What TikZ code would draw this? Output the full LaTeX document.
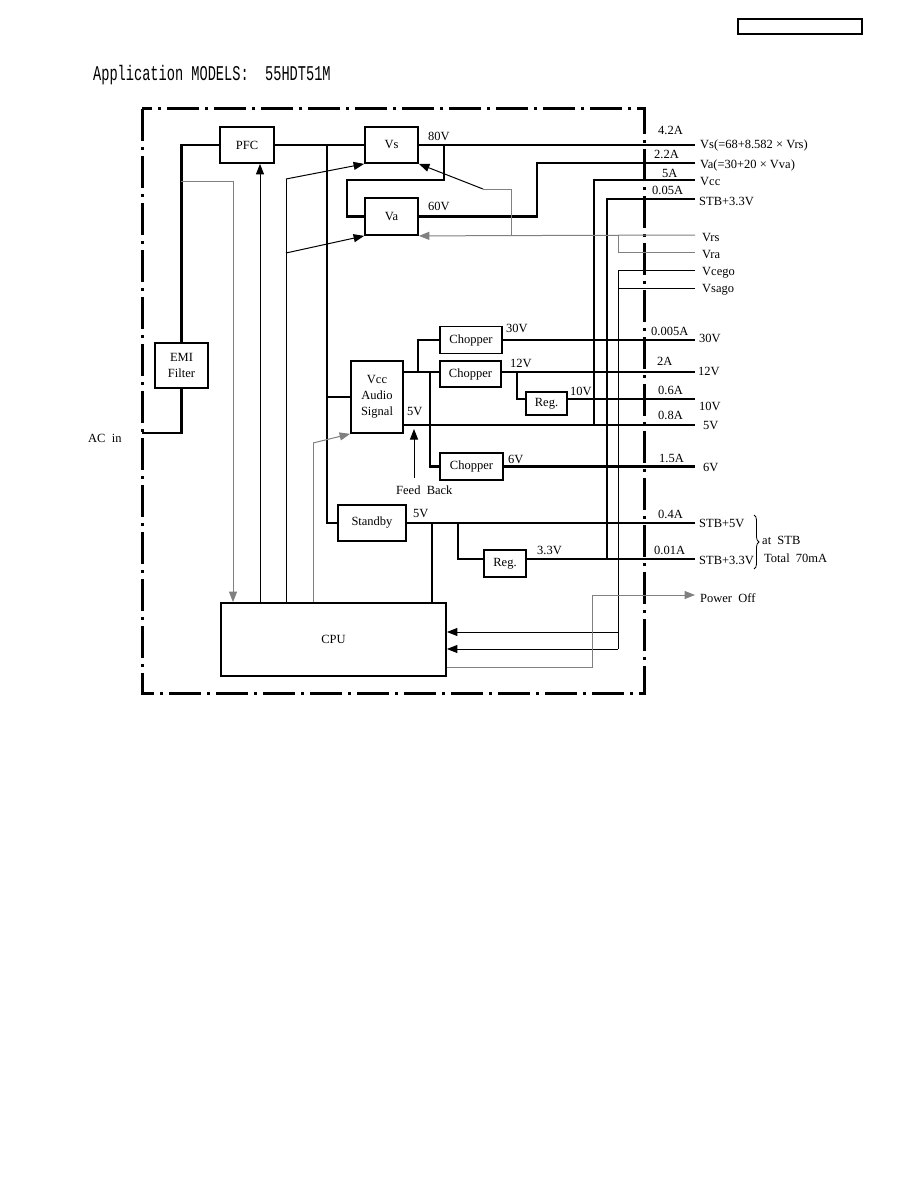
\documentclass[tikz,border=0pt]{standalone}
\usepackage{fontspec}
\setmainfont{Liberation Serif}
\setmonofont{Liberation Mono}
\usetikzlibrary{arrows.meta,decorations.pathreplacing}
\begin{document}
\begin{tikzpicture}[x=1pt,y=-1pt,
 box/.style={draw,line width=1.8pt,inner sep=0pt,font=\fontsize{12.5}{16}\selectfont,align=center},
 lab/.style={inner sep=0pt,anchor=base west,font=\fontsize{12.5}{15}\selectfont},
 pw/.style={line width=2.8pt},
 thn/.style={line width=1pt},
 gry/.style={line width=1pt,draw=black!50},
 arr/.style={-{Triangle[length=10.5pt,width=8pt]}},
 framestyle/.style={line width=3pt,dash pattern=on 32pt off 6pt on 3pt off 6pt}]
\useasboundingbox (0,0) rectangle (918,1188);
\fill[white] (0,0) rectangle (918,1188);

% header
\node[draw,line width=1.2pt,minimum width=124,minimum height=15,inner sep=0pt] (hdr) at (800,26.5) {};
\node[anchor=base west,inner sep=0pt,xscale=0.65,font=\fontsize{21}{21}\selectfont\ttfamily] (title) at (93,81) {Application MODELS:\ \ 55HDT51M};

% frame
\draw[framestyle] (142,109) rectangle (644,693);

% boxes
\node[box,minimum width=54,minimum height=36] (pfc) at (247,145) {PFC};
\node[box,minimum width=53,minimum height=36] (vs) at (391.5,145) {Vs};
\node[box,minimum width=53,minimum height=37] (va) at (391.5,216.5) {Va};
\node[box,minimum width=53,minimum height=45] (emi) at (181.5,365.5) {EMI\\Filter};
\node[box,minimum width=52,minimum height=72] (vcc) at (377,397) {Vcc\\Audio\\Signal};
\node[box,minimum width=62,minimum height=27] (ch1) at (471,340) {Chopper};
\node[box,minimum width=61,minimum height=26] (ch2) at (470.5,374) {Chopper};
\node[box,minimum width=63,minimum height=27] (ch3) at (471.5,466.5) {Chopper};
\node[box,minimum width=41,minimum height=23] (reg2) at (546.5,403.5) {Reg.};
\node[box,minimum width=68,minimum height=36] (stby) at (372,523) {Standby};
\node[box,minimum width=42,minimum height=27] (reg3) at (505,563.5) {Reg.};
\node[box,minimum width=225,minimum height=73] (cpu) at (333.5,639.5) {CPU};

% power lines
\draw[pw] (142,433) -| (emi.south);
\draw[pw] (emi.north) |- (pfc.west);
\draw[pw] (pfc.east) -- (vs.west);
\draw[pw] (327,145) |- (vcc.west);
\draw[pw] (327,397) |- (stby.west);
\draw[pw] (vs.east) -- (695,145);
\draw[pw] (444,145) -- (444,180) -- (347,180) -- (347,216.5) -- (va.west);
\draw[pw] (va.east) -- (537,216.5) -- (537,163) -- (695,163);
\draw[pw] (695,180) -- (594,180) -- (594,425);
\draw[pw] (695,199) -- (607,199) -- (607,559);

\draw[pw] (vcc.east |- 0,425) -- (695,425);
\draw[pw] (vcc.east |- 0,372) -- (ch2.west |- 0,372);
\draw[pw] (418,372) |- (ch1.west);
\draw[pw] (430,372) |- (ch3.west);
\draw[pw] (ch1.east) -- (ch1.east -| 695,0);
\draw[pw] (ch2.east |- 0,372) -- (695,372);
\draw[pw] (517,372) |- (reg2.west |- 0,399);
\draw[pw] (reg2.east |- 0,399) -- (695,399);
\draw[pw] (ch3.east) -- (ch3.east -| 695,0);

\draw[pw] (stby.east) -- (stby.east -| 695,0);
\draw[pw] (432,523) -- (432,0 |- cpu.north);
\draw[pw] (458,523) |- (reg3.west |- 0,559);
\draw[pw] (reg3.east |- 0,559) -- (695,559);

% control lines
\draw[gry,arr] (695,235) -- (va.south east);
\draw[gry] (511,235) -- (511,189) -- (483,189);
\draw[thn,arr] (483,189) -- (vs.south east);
\draw[gry] (618,235) -- (618,252) -- (695,252);
\draw[thn] (695,270) -- (618,270) -- (618,649);
\draw[thn] (618,288) -- (695,288);
\draw[thn,arr] (618,632) -- (cpu.east |- 0,632);
\draw[thn,arr] (618,649) -- (cpu.east |- 0,649);
\draw[gry,arr] (cpu.east |- 0,667) -- (592,667) -- (592,595) -- (695,595);

\draw[gry,arr] (181,181) -- (233,181) -- (233,0 |- cpu.north);
\draw[thn,arr] (260,0 |- cpu.north) -- (260,0 |- pfc.south);
\draw[thn] (286,0 |- cpu.north) -- (286,179);
\draw[thn,arr] (286,179) -- (vs.south west);
\draw[thn,arr] (286,253) -- (va.south west);
\draw[gry] (313,0 |- cpu.north) -- (313,443);
\draw[gry,arr] (313,443) -- (vcc.south west);
\draw[thn,arr] (414,478) -- (414,429);

% labels
\node[lab] (l80) at (428,141) {80V};
\node[lab] (l60) at (428,210) {60V};
\node[lab] (l42) at (658,135) {4.2A};
\node[lab] (l22) at (654,158) {2.2A};
\node[lab] (l5a) at (662,177) {5A};
\node[lab] (l005) at (652,194) {0.05A};
\node[lab] (rvs) at (700,148) {Vs(=68+8.582 × Vrs)};
\node[lab] (rva) at (700,168) {Va(=30+20 × Vva)};
\node[lab] (rvcc) at (700,185) {Vcc};
\node[lab] (rstb1) at (699,205) {STB+3.3V};
\node[lab] (rvrs) at (702,241) {Vrs};
\node[lab] (rvra) at (702,258) {Vra};
\node[lab] (rvce) at (702,275) {Vcego};
\node[lab] (rvsa) at (702,292) {Vsago};

\node[lab] (c30) at (506,332) {30V};
\node[lab] (a0005) at (651,335) {0.005A};
\node[lab] (r30) at (699,342) {30V};
\node[lab] (c12) at (510,367) {12V};
\node[lab] (a2) at (657,365) {2A};
\node[lab] (r12) at (698,375) {12V};
\node[lab] (c10) at (570,395) {10V};
\node[lab] (a06) at (658,394) {0.6A};
\node[lab] (r10) at (699,410) {10V};
\node[lab] (c5) at (407,415) {5V};
\node[lab] (a08) at (658,419) {0.8A};
\node[lab] (r5) at (703,429) {5V};
\node[lab] (c6) at (508,463) {6V};
\node[lab] (a15) at (659,462) {1.5A};
\node[lab] (r6) at (703,471) {6V};
\node[lab] (fb) at (396,494) {Feed\ \ Back};

\node[lab] (s5) at (413,517) {5V};
\node[lab] (a04) at (658,518) {0.4A};
\node[lab] (rstb5) at (699,527) {STB+5V};
\node[lab] (c33) at (537,554) {3.3V};
\node[lab] (a001) at (654,554) {0.01A};
\node[lab] (rstb3) at (699,564) {STB+3.3V};
\draw[line width=0.8pt,decorate,decoration={brace,amplitude=5pt}] (754,515) -- (754,569);
\node[lab] (atstb) at (762,544) {at\ \ STB};
\node[lab] (tot) at (764,562) {Total\ \ 70mA};
\node[lab] (poff) at (700,602) {Power\ \ Off};
\node[lab] (acin) at (88,442) {AC\ \ in};
\end{tikzpicture}
\end{document}
